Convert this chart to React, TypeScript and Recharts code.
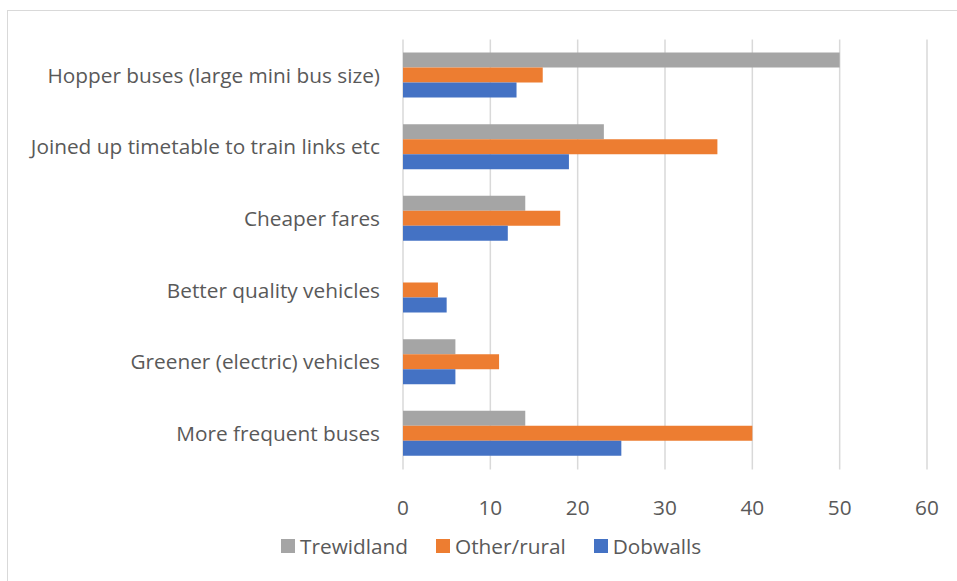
import { BarChart, Bar, XAxis, YAxis, CartesianGrid, Legend } from 'recharts';

const categories = [
  'Hopper buses (large mini bus size)',
  'Joined up timetable to train links etc',
  'Cheaper fares',
  'Better quality vehicles',
  'Greener (electric) vehicles',
  'More frequent buses',
];

const trewidland = [50, 23, 14, 0, 6, 14];
const otherRural = [16, 36, 18, 4, 11, 40];
const dobwalls = [13, 19, 12, 5, 6, 25];

const xTicks = [0, 10, 20, 30, 40, 50, 60];

const series = [
  { key: 'trewidland', name: 'Trewidland', color: '#a5a5a5' },
  { key: 'otherRural', name: 'Other/rural', color: '#ed7d31' },
  { key: 'dobwalls', name: 'Dobwalls', color: '#4472c4' },
];

const data = categories.map((name, i) => ({
  name,
  trewidland: trewidland[i],
  otherRural: otherRural[i],
  dobwalls: dobwalls[i],
}));

const FONT = '"Open Sans", sans-serif';
const TEXT = '#595959';

function LegendContent() {
  return (
    <div style={{ display: 'flex', alignItems: 'center', fontFamily: FONT, fontSize: 20.8, color: TEXT }}>
      {series.map((s) => (
        <div key={s.key} style={{ display: 'flex', alignItems: 'center', marginRight: 28 }}>
          <span style={{ width: 14, height: 14, background: s.color, display: 'inline-block', marginRight: 5 }} />
          <span>{s.name}</span>
        </div>
      ))}
    </div>
  );
}

export default function App() {
  return (
    <div style={{ position: 'absolute', left: 0, top: 0, width: 957, height: 581, overflow: 'hidden', background: '#fff' }}>
      <div
        style={{
          position: 'absolute',
          left: 7,
          top: 10,
          width: 1000,
          height: 1000,
          border: '1px solid #d9d9d9',
          boxSizing: 'border-box',
        }}
      />
      <BarChart
        width={957}
        height={581}
        data={data}
        layout="vertical"
        margin={{ top: 39.5, right: 30, bottom: 0, left: 0 }}
        barGap={0}
        barSize={15}
      >
        <CartesianGrid horizontal={false} stroke="#d9d9d9" strokeWidth={1.5} />
        <XAxis
          type="number"
          domain={[0, 60]}
          ticks={xTicks}
          axisLine={false}
          tickLine={false}
          tickSize={0}
          tickMargin={31}
          height={111.5}
          tick={{ fill: TEXT, fontSize: 20.8, fontFamily: FONT }}
        />
        <YAxis
          type="category"
          dataKey="name"
          width={403}
          axisLine={false}
          tickLine={false}
          tickSize={0}
          tickMargin={23}
          interval={0}
          tick={{ fill: TEXT, fontSize: 20.8, fontFamily: FONT }}
        />
        <Legend
          layout="horizontal"
          verticalAlign="middle"
          align="center"
          content={<LegendContent />}
          wrapperStyle={{ left: 281, top: 532, width: 'auto', height: 'auto' }}
        />
        {series.map((s) => (
          <Bar key={s.key} dataKey={s.key} name={s.name} fill={s.color} isAnimationActive={false} />
        ))}
      </BarChart>
    </div>
  );
}
